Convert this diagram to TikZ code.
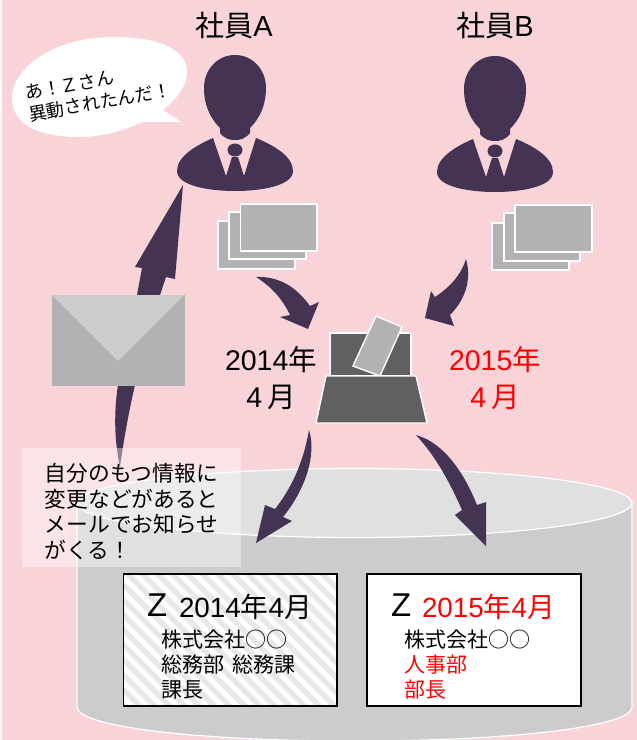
\documentclass[tikz,border=0pt]{standalone}
\usepackage{fontspec}
\setmainfont{Liberation Sans}
\newfontfamily\cjk{Noto Sans CJK JP}
\definecolor{bgpink}{HTML}{F8D3D7}
\definecolor{plum}{HTML}{443352}
\definecolor{cardgrey}{HTML}{B2B2B2}
\definecolor{boxgrey}{HTML}{606060}
\definecolor{cylside}{HTML}{CCCCCC}
\definecolor{cyltop}{HTML}{E0E0E0}
\definecolor{stripe}{HTML}{E8E8E8}
\newcommand{\fs}[1]{\fontsize{#1}{#1}\selectfont}
\tikzset{
  x=1pt,y=-1pt,
  blockarrow/.style={fill=plum,draw=none},
  card/.style={fill=cardgrey,draw=white,line width=1.4pt},
  votebox/.style={fill=boxgrey,draw=white,line width=1.4pt},
  cyl/.style={draw=white,line width=1.2pt},
  txt/.style={inner sep=0pt,outer sep=0pt,anchor=west,align=left},
  ctr/.style={inner sep=0pt,outer sep=0pt,anchor=center,align=center},
  recordbox/.style={draw=black,line width=1.3pt},
  datefont/.style={font=\fontsize{28.5}{37}\selectfont},
  notefont/.style={font=\fontsize{21.7}{25.7}\selectfont\cjk},
  recfont/.style={font=\fontsize{21}{25}\selectfont},
  pics/person/.style={code={
    \fill[plum] (0,55) .. controls (18,55) and (31,70) .. (31,88)
      .. controls (31,105) and (25,118) .. (15,128) -- (15,133)
      .. controls (10,139) and (5,140) .. (0,140) .. controls (-5,140) and (-10,139) .. (-15,133)
      -- (-15,128) .. controls (-25,118) and (-31,105) .. (-31,88)
      .. controls (-31,70) and (-18,55) .. (0,55) -- cycle;
    \fill[plum] (-22,138) .. controls (-38,145) and (-58,156) .. (-58,171)
      .. controls (-58,186) and (-25,191) .. (0,191) .. controls (25,191) and (58,186) .. (58,171)
      .. controls (58,156) and (38,145) .. (21,138) -- (9,176) -- (3,157) -- (-3,157) -- (-9,176) -- cycle;
    \fill[plum] (0,150) ellipse [x radius=7.5pt,y radius=6.5pt];
  }}
}
\begin{document}
\begin{tikzpicture}
\useasboundingbox (0,0) rectangle (637,740);
\fill[white] (0,0) rectangle (637,740);
\fill[bgpink] (1.5,0) rectangle (637,740);

% cylinder
\path[fill=cylside,cyl] (77,503) -- (77,707) .. controls (77,727) and (200,741) .. (354.5,741)
  .. controls (509,741) and (632,727) .. (632,707) -- (632,503) -- cycle;
\path[fill=cyltop,cyl] (354.5,503) ellipse [x radius=277.5pt,y radius=34.5pt];

% people
\pic at (235,0) {person};
\pic at (495,1) {person};
\node[ctr] (lblA) at (234,26) {\fs{29}{\cjk 社員}A};
\node[ctr] (lblB) at (495,26) {\fs{29}{\cjk 社員}B};

% speech bubble
\path[fill=white] (163,110) -- (181,122) -- (143,122) .. controls (120,132) and (100,137) .. (78,137)
  .. controls (40,137) and (12,125) .. (12,98) .. controls (12,70) and (50,37) .. (115,37)
  .. controls (160,37) and (187,50) .. (187,72) .. controls (187,88) and (175,100) .. (163,110) -- cycle;
\node[inner sep=0pt,align=left,rotate=10,font=\fontsize{18}{22}\selectfont\cjk] (say) at (98,91.5) {あ！Ｚさん\\異動されたんだ！};

% card stacks
\draw[card] (218,221) rectangle (295,269);
\draw[card] (229,212) rectangle (306,259);
\draw[card] (240.5,204) rectangle (317,251);
\draw[card] (492,223) rectangle (569,270);
\draw[card] (504,213) rectangle (580,261);
\draw[card] (515,205) rectangle (592,252);

% arrows to ballot box
\path[blockarrow] (256,277) .. controls (280,276) and (297,288) .. (310,306) -- (319,302) -- (308,329)
  -- (280,317) -- (290,315) .. controls (283,300) and (272,287) .. (256,277) -- cycle;
\path[blockarrow] (466,259) .. controls (472,280) and (465,300) .. (450,315) -- (454,326) -- (425,318)
  -- (431,291) -- (435,297) .. controls (450,287) and (461,275) .. (466,259) -- cycle;

% ballot box
\draw[votebox] (330,333) rectangle (411,376);
\draw[card] (376,316) -- (402,327) -- (380,376) -- (353,366) -- cycle;
\draw[votebox] (326,376) -- (416,376) -- (427,423) -- (316,423) -- cycle;

% dates
\node[ctr,datefont] (d14) at (271,378.5) {2014{\cjk 年}\\4{\cjk\,月}};
\node[ctr,datefont,text=red] (d15) at (495,378.5) {2015{\cjk 年}\\4{\cjk\,月}};

% arrows into cylinder
\path[blockarrow] (309,430) .. controls (317,455) and (305,490) .. (283,517) -- (292,521) -- (256,543)
  -- (265,505) -- (275,509) .. controls (290,490) and (303,465) .. (309,430) -- cycle;
\path[blockarrow] (416,435) .. controls (445,443) and (465,475) .. (477,505) -- (486,502) -- (486,546)
  -- (455,515) -- (462,510) .. controls (450,483) and (437,458) .. (416,435) -- cycle;

% long arrow up, behind the envelope and the note
\path[blockarrow] (183,185) -- (175,279) -- (166,277) -- (160,295) -- (135,385)
  .. controls (128,415) and (123,445) .. (120,467) .. controls (114,440) and (114,410) .. (118,385)
  -- (137,295) -- (142,268) -- (135,267) -- cycle;

% envelope
\path[fill=cardgrey,draw=cardgrey,line width=.5pt] (52,295) rectangle (184,385);
\path[fill=cylside] (52,295) -- (184,295) -- (118,361) -- cycle;

% translucent note
\fill[white,fill opacity=.4] (22,448) rectangle (241,567);
\node[txt,notefont] (note) at (45,511.5) {自分のもつ情報に\\変更などがあると\\メールでお知らせ\\がくる！};

% records
\fill[white] (123.5,574) rectangle (337,706);
\begin{scope}
  \clip (123.5,574) rectangle (337,706);
  \foreach \k in {0,...,24} {
    \fill[stripe] (110+15*\k,710) -- (117.5+15*\k,710) -- (117.5+15*\k-138,572) -- (110+15*\k-138,572) -- cycle;
  }
\end{scope}
\draw[recordbox] (123.5,574) rectangle (337,706);
\path[fill=white] (367,574) rectangle (581,706);
\draw[recordbox] (367,574) rectangle (581,706);

\node[txt] (z1) at (147,605.5) {\fs{33}Z};
\node[txt] (t1) at (179,607) {\fs{27.8}2014{\cjk 年}4{\cjk 月}};
\node[txt,recfont] (a1) at (161,665) {{\cjk 株式会社○○}\\{\cjk 総務部}\hspace{9pt}{\cjk 総務課}\\{\cjk 課長}};

\node[txt] (z2) at (391,605.5) {\fs{33}Z};
\node[txt,text=red] (t2) at (422,607) {\fs{27.8}2015{\cjk 年}4{\cjk 月}};
\node[txt,recfont] (b1) at (404.5,665) {{\cjk 株式会社○○}\\{\color{red}\cjk 人事部}\\{\color{red}\cjk 部長}};
\end{tikzpicture}
\end{document}
